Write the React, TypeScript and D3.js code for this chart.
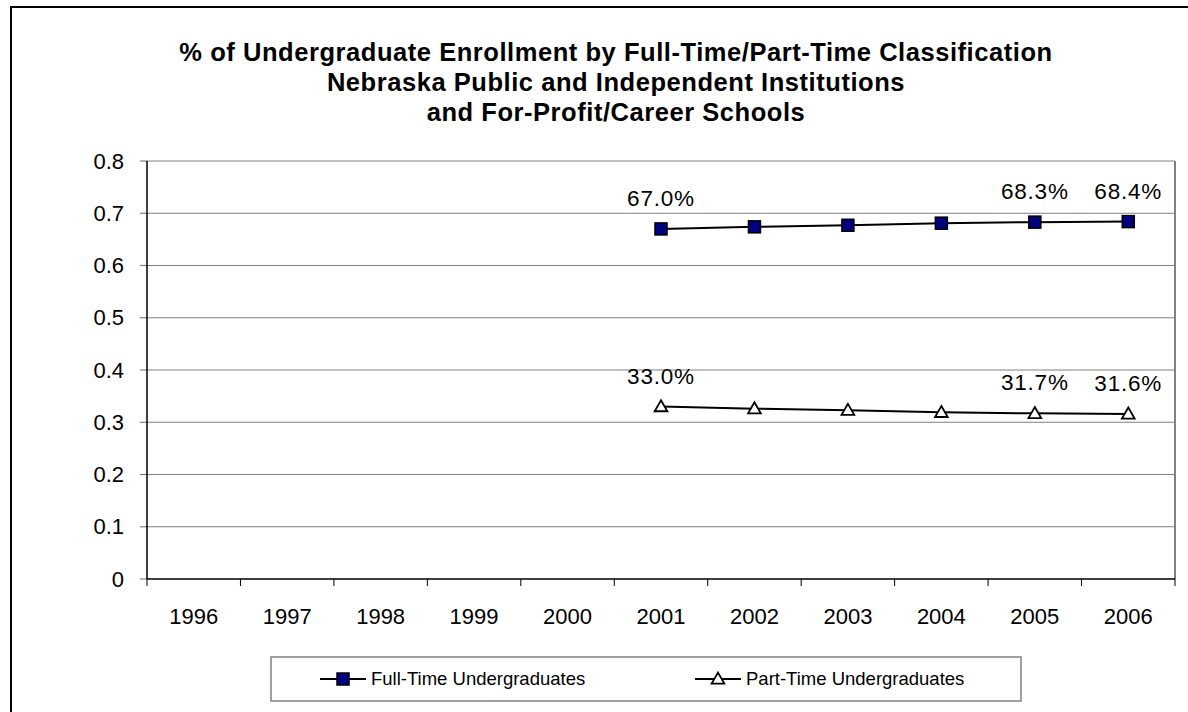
import React from "react";
import * as d3 from "d3";

const years = ["1996", "1997", "1998", "1999", "2000", "2001", "2002", "2003", "2004", "2005", "2006"];
const dataYears = ["2001", "2002", "2003", "2004", "2005", "2006"];
const fullTime = [0.67, 0.674, 0.677, 0.681, 0.683, 0.684];
const partTime = [0.33, 0.326, 0.323, 0.319, 0.317, 0.316];
const labelYears = ["2001", "2005", "2006"];
const yTicks = [0, 0.1, 0.2, 0.3, 0.4, 0.5, 0.6, 0.7, 0.8];
const titleLines = [
  "% of Undergraduate Enrollment by Full-Time/Part-Time Classification",
  "Nebraska Public and Independent Institutions",
  "and For-Profit/Career Schools",
];

const font = "'Liberation Sans', Arial, sans-serif";

export default function App() {
  const width = 1188;
  const height = 712;
  const plot = { left: 147, right: 1175, top: 161, bottom: 579 };

  const x = d3.scaleBand().domain(years).range([plot.left, plot.right]).padding(0);
  const y = d3.scaleLinear().domain([0, 0.8]).range([plot.bottom, plot.top]);
  const cx = (yr: string) => (x(yr) as number) + x.bandwidth() / 2;

  const line = d3
    .line<[string, number]>()
    .x((d) => cx(d[0]))
    .y((d) => y(d[1]));

  const ftPts: [string, number][] = dataYears.map((yr, i) => [yr, fullTime[i]]);
  const ptPts: [string, number][] = dataYears.map((yr, i) => [yr, partTime[i]]);

  const tri = d3.symbol().type(d3.symbolTriangle).size(70)();

  const square = (px: number, py: number, key: string) => (
    <rect key={key} x={px - 6} y={py - 6} width={12} height={12} fill="#000080" stroke="#000" strokeWidth={1.5} />
  );
  const triangle = (px: number, py: number, key: string) => (
    <path key={key} d={tri as string} transform={`translate(${px},${py + 1})`} fill="#fff" stroke="#000" strokeWidth={1.8} />
  );

  const legendY = 679;

  return (
    <svg
      width={width}
      height={height}
      style={{ position: "absolute", left: 0, top: 0, background: "#fff" }}
      fontFamily={font}
    >
      {/* outer chart frame */}
      <rect x={11} y={7} width={1300} height={800} fill="#fff" stroke="#000" strokeWidth={2} />

      {titleLines.map((t, i) => (
        <text key={t} x={616} y={61 + i * 30} textAnchor="middle" fontSize={25.5} fontWeight="bold" letterSpacing={0.55}>
          {t}
        </text>
      ))}

      {/* gridlines */}
      {yTicks.map((t) => (
        <g key={t}>
          {t > 0 && (
            <line x1={plot.left} x2={plot.right} y1={y(t)} y2={y(t)} stroke="#808080" strokeWidth={1.2} />
          )}
          <line x1={plot.left - 7} x2={plot.left} y1={y(t)} y2={y(t)} stroke="#808080" strokeWidth={1.2} />
          <text x={124} y={y(t)} dy="0.35em" textAnchor="end" fontSize={22}>
            {t === 0 ? "0" : t.toFixed(1)}
          </text>
        </g>
      ))}

      {/* plot border */}
      <line x1={plot.right} x2={plot.right} y1={plot.top} y2={plot.bottom} stroke="#808080" strokeWidth={2} />
      <line x1={plot.left} x2={plot.left} y1={plot.top} y2={plot.bottom} stroke="#000" strokeWidth={1.5} />
      <line x1={plot.left} x2={plot.right} y1={plot.bottom} y2={plot.bottom} stroke="#000" strokeWidth={1.5} />

      {/* x ticks */}
      {years.map((yr) => (
        <g key={yr}>
          <line x1={x(yr) as number} x2={x(yr) as number} y1={plot.bottom} y2={plot.bottom + 7} stroke="#000" />
          <text x={cx(yr)} y={624} textAnchor="middle" fontSize={22}>
            {yr}
          </text>
        </g>
      ))}
      <line x1={plot.right} x2={plot.right} y1={plot.bottom} y2={plot.bottom + 7} stroke="#000" />

      {/* series */}
      <path d={line(ftPts) as string} fill="none" stroke="#000" strokeWidth={2} />
      <path d={line(ptPts) as string} fill="none" stroke="#000" strokeWidth={2} />
      {ftPts.map((d) => square(cx(d[0]), y(d[1]), "f" + d[0]))}
      {ptPts.map((d) => triangle(cx(d[0]), y(d[1]), "p" + d[0]))}

      {/* data labels */}
      {[...ftPts, ...ptPts]
        .filter((d) => labelYears.includes(d[0]))
        .map((d, i) => (
          <text key={"lbl" + i} x={cx(d[0])} y={y(d[1]) - 23} textAnchor="middle" fontSize={22.5} letterSpacing={0.8}>
            {(d[1] * 100).toFixed(1)}%
          </text>
        ))}

      {/* legend */}
      <rect x={271} y={657} width={750} height={44} fill="#fff" stroke="#808080" strokeWidth={1.5} />
      <line x1={320} x2={366} y1={legendY} y2={legendY} stroke="#000" strokeWidth={2} />
      {square(343, legendY, "lg1")}
      <text x={371} y={legendY} dy="0.35em" fontSize={18.5}>
        Full-Time Undergraduates
      </text>
      <line x1={695} x2={741} y1={legendY} y2={legendY} stroke="#000" strokeWidth={2} />
      {triangle(718, legendY, "lg2")}
      <text x={746} y={legendY} dy="0.35em" fontSize={18.5}>
        Part-Time Undergraduates
      </text>
    </svg>
  );
}
